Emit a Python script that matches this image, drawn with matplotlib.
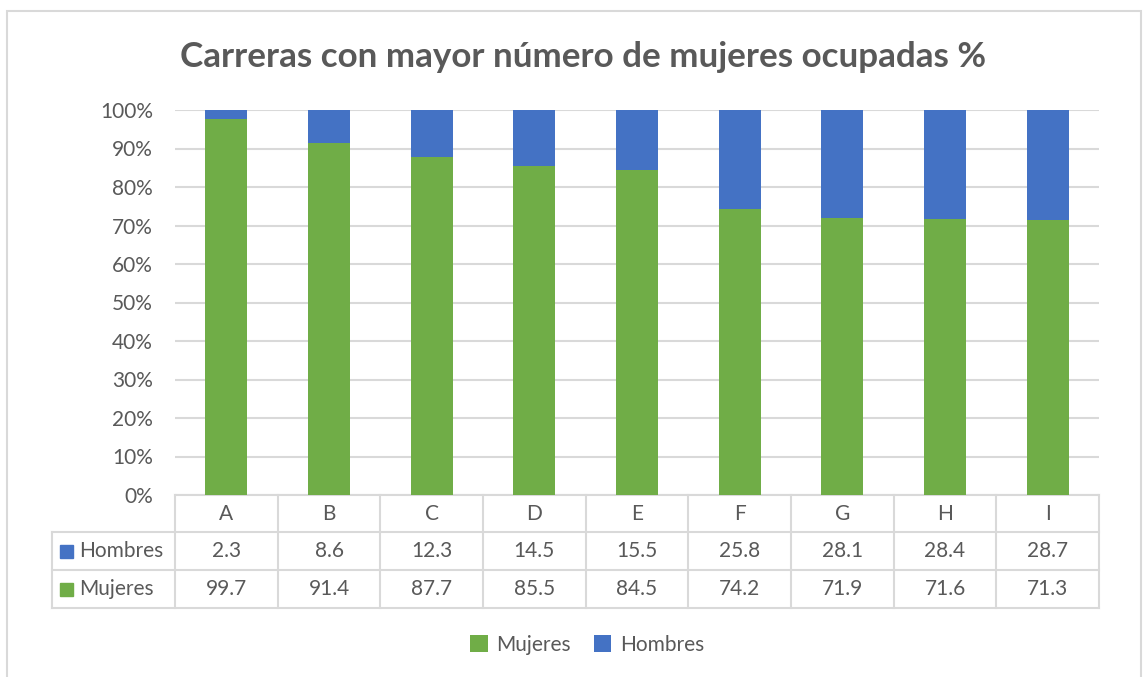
import matplotlib
matplotlib.use('Agg')
import matplotlib.pyplot as plt
from matplotlib.patches import Rectangle
import numpy as np

categorias = ["A", "B", "C", "D", "E", "F", "G", "H", "I"]
mujeres = [99.7, 91.4, 87.7, 85.5, 84.5, 74.2, 71.9, 71.6, 71.3]
hombres = [2.3, 8.6, 12.3, 14.5, 15.5, 25.8, 28.1, 28.4, 28.7]

VERDE = "#70AD47"
AZUL = "#4472C4"
GRIS_TXT = "#595959"
GRIS_LIN = "#D9D9D9"
FS = 15

plt.rcParams['font.family'] = ['Lato', 'DejaVu Sans']

fig = plt.figure(figsize=(11.43, 6.77), dpi=100)
W, H = 1143, 677
ax = fig.add_axes([175 / W, 1 - 495 / H, (1099 - 175) / W, (495 - 110) / H])

# 100% apilado: se normaliza cada columna
m = np.array(mujeres)
h = np.array(hombres)
total = m + h
m_pct = m / total
h_pct = h / total
x = np.arange(len(categorias))

b1 = ax.bar(x, m_pct, width=0.41, color=VERDE, zorder=3, label="Mujeres")
b2 = ax.bar(x, h_pct, bottom=m_pct, width=0.41, color=AZUL, zorder=3, label="Hombres")

ax.set_xlim(-0.5, len(categorias) - 0.5)
ax.set_ylim(0, 1)
ax.set_yticks(np.arange(0, 1.01, 0.1))
ax.set_yticklabels([f"{int(round(v * 100))}%" for v in np.arange(0, 1.01, 0.1)],
                   fontsize=FS, color=GRIS_TXT)
ax.tick_params(axis='y', length=0, pad=16)
ax.set_xticks([])
ax.grid(axis='y', color=GRIS_LIN, linewidth=1.5, zorder=0)
for s in ax.spines.values():
    s.set_visible(False)

# tabla de datos debajo del gráfico
tr = ax.get_xaxis_transform()
px = 1 / 385  # un pixel en coordenadas del eje
filas = [0, -37 * px, -75 * px, -113 * px]
izq = -0.5 - 123 / (924 / 9)
n = len(categorias)
kw = dict(color=GRIS_LIN, linewidth=1.5, clip_on=False, transform=tr, zorder=1)
ax.plot([-0.5, n - 0.5], [filas[0]] * 2, **kw)
for y in filas[1:]:
    ax.plot([izq, n - 0.5], [y, y], **kw)
for k in range(n + 1):
    ax.plot([k - 0.5, k - 0.5], [filas[0], filas[3]], **kw)
ax.plot([izq, izq], [filas[1], filas[3]], **kw)

for i, c in enumerate(categorias):
    ax.text(i, (filas[0] + filas[1]) / 2, c, transform=tr, ha='center', va='center',
            fontsize=FS, color=GRIS_TXT, clip_on=False)
    ax.text(i, (filas[1] + filas[2]) / 2, f"{hombres[i]}", transform=tr, ha='center',
            va='center', fontsize=FS, color=GRIS_TXT, clip_on=False)
    ax.text(i, (filas[2] + filas[3]) / 2, f"{mujeres[i]}", transform=tr, ha='center',
            va='center', fontsize=FS, color=GRIS_TXT, clip_on=False)

cu = 13 / (924 / 9)  # cuadrito de 13 px
for (y0, y1), col, nom in [((filas[1], filas[2]), AZUL, "Hombres"),
                           ((filas[2], filas[3]), VERDE, "Mujeres")]:
    yc = (y0 + y1) / 2
    ax.add_patch(Rectangle((izq + 8 / (924 / 9), yc - 6.5 * px), cu, 13 * px, transform=tr,
                           color=col, clip_on=False))
    ax.text(izq + 27 / (924 / 9), yc, nom, transform=tr, ha='left', va='center',
            fontsize=FS, color=GRIS_TXT, clip_on=False)

fig.text(583 / W, 1 - 57 / H, "Carreras con mayor número de mujeres ocupadas %",
         ha='center', va='center', fontsize=25.2, fontweight='bold', color=GRIS_TXT)

fig.legend(handles=[b1, b2], loc='center', bbox_to_anchor=(587 / W, 1 - 645 / H),
           ncol=2, frameon=False, fontsize=FS, labelcolor=GRIS_TXT,
           handlelength=0.85, handleheight=0.85, handletextpad=0.4, columnspacing=1.1)

# borde del área del gráfico
fig.patches.append(Rectangle((7 / W, -0.05), (1141 - 7) / W, 1.05 - 11 / H,
                             transform=fig.transFigure, fill=False,
                             edgecolor=GRIS_LIN, linewidth=1.5))

fig.savefig("out.png", dpi=100)
